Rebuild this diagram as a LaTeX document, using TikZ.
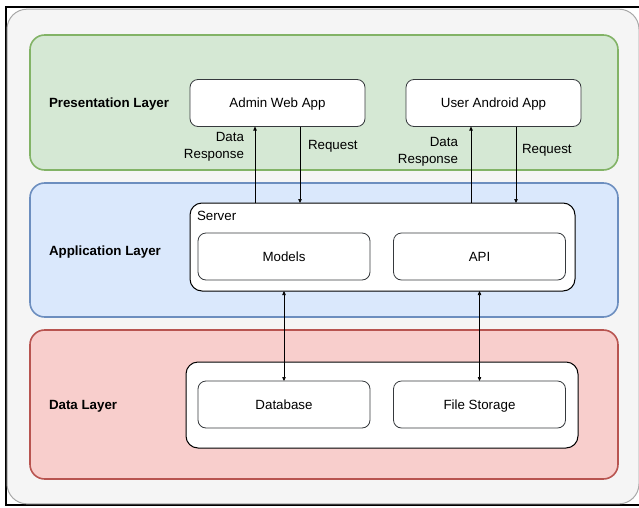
\documentclass[tikz,border=0pt]{standalone}
\usepackage{fontspec}
\setmainfont{Liberation Sans}
\usetikzlibrary{arrows.meta}
\definecolor{outerfill}{HTML}{F5F5F5}
\definecolor{outerline}{HTML}{A8A8A8}
\definecolor{gfill}{HTML}{D5E8D4}
\definecolor{gline}{HTML}{82B366}
\definecolor{bfill}{HTML}{DAE8FC}
\definecolor{bline}{HTML}{6C8EBF}
\definecolor{rfill}{HTML}{F8CECC}
\definecolor{rline}{HTML}{B85450}
\definecolor{boxline}{HTML}{36393D}
\tikzset{
  x=0.75pt, y=-0.75pt,
  every node/.style={font=\fontsize{10}{12.8}\selectfont, inner sep=0pt, outer sep=0pt},
  oneline/.style={text height=7.2pt, text depth=0pt},
  layer/.style={draw, line width=1.2pt, rounded corners=11pt, minimum width=441pt},
  container/.style={draw=black, fill=white, line width=0.75pt, rounded corners=9pt},
  itembox/.style={draw=boxline, fill=white, line width=0.6pt, rounded corners=6pt, minimum width=129pt, minimum height=35.25pt, oneline},
  layerlabel/.style={anchor=west, oneline, font=\fontsize{10}{12}\selectfont\bfseries},
  arr/.style={draw=black, line width=0.5pt, -{Triangle[length=3pt,width=2.6pt]}},
  biarr/.style={draw=black, line width=0.5pt, {Triangle[length=3pt,width=2.6pt]}-{Triangle[length=3pt,width=2.6pt]}},
}
\begin{document}
\begin{tikzpicture}
\useasboundingbox (0,0) rectangle (639,507);
\fill[white] (0,0) rectangle (639,507);
% frame
\draw[black, line width=1.5pt] (639,7) -- (6,7) -- (6,505) -- (639,505);
\node[draw=outerline, fill=outerfill, line width=0.75pt, rounded corners=15pt, minimum width=474pt, minimum height=371pt] (outer) at (323,256.5) {};
% layers
\node[layer, draw=gline, fill=gfill, minimum height=101.25pt] (pres) at (324,102.5) {};
\node[layer, draw=bline, fill=bfill, minimum height=100.5pt] (app) at (324,250) {};
\node[layer, draw=rline, fill=rfill, minimum height=111.75pt] (data) at (324,404.5) {};
\node[layerlabel] (presl) at (49,103) {Presentation Layer};
\node[layerlabel] (appl) at (49,251) {Application Layer};
\node[layerlabel] (datal) at (49,405) {Data Layer};
% presentation
\node[itembox, minimum width=131.25pt] (admin) at (277.5,103) {Admin Web App};
\node[itembox, minimum width=131.25pt] (user) at (493.5,103) {User Android App};
% application
\node[container, minimum width=288.75pt, minimum height=66pt] (server) at (382.5,247) {};
\node[anchor=west, oneline] (serverl) at (197,216) {Server};
\node[itembox] (models) at (284,256.5) {Models};
\node[itembox] (api) at (479.5,256.5) {API};
% data
\node[container, minimum width=294pt, minimum height=64.5pt] (datac) at (382,405) {};
\node[itembox] (db) at (284,404.5) {Database};
\node[itembox] (fs) at (479.5,404.5) {File Storage};
% connectors
\draw[arr] (server.north -| 255,0) -- (255,0 |- admin.south);
\draw[arr] (admin.south -| 300,0) -- (300,0 |- server.north);
\draw[arr] (server.north -| 471,0) -- (471,0 |- user.south);
\draw[arr] (user.south -| 516,0) -- (516,0 |- server.north);
\draw[biarr] (server.south -| models) -- (db.north);
\draw[biarr] (server.south -| api) -- (fs.north);
% labels
\node[align=right, anchor=east] (resp1) at (244,147) {Data\\Response};
\node[anchor=west, oneline] (req1) at (308,145) {Request};
\node[align=right, anchor=east] (resp2) at (458,151.5) {Data\\Response};
\node[anchor=west, oneline] (req2) at (522,149) {Request};
\end{tikzpicture}
\end{document}
